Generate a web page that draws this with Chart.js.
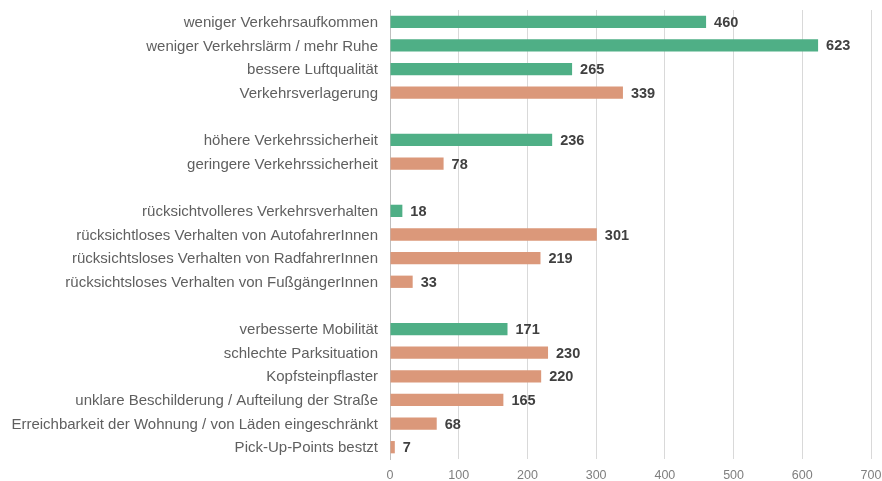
<!DOCTYPE html>
<html><head><meta charset="utf-8">
<script src="https://cdn.jsdelivr.net/npm/chart.js@4/dist/chart.umd.min.js"></script>
<style>html,body{margin:0;padding:0;background:#fff}#wrap{width:882px;height:481px}</style>
</head><body><div id="wrap"><canvas id="c"></canvas></div>
<script>
const categories = [
  "weniger Verkehrsaufkommen",
  "weniger Verkehrslärm / mehr Ruhe",
  "bessere Luftqualität",
  "Verkehrsverlagerung",
  "",
  "höhere Verkehrssicherheit",
  "geringere Verkehrssicherheit",
  "",
  "rücksichtvolleres Verkehrsverhalten",
  "rücksichtloses Verhalten von AutofahrerInnen",
  "rücksichtsloses Verhalten von RadfahrerInnen",
  "rücksichtsloses Verhalten von FußgängerInnen",
  "",
  "verbesserte Mobilität",
  "schlechte Parksituation",
  "Kopfsteinpflaster",
  "unklare Beschilderung / Aufteilung der Straße",
  "Erreichbarkeit der Wohnung / von Läden eingeschränkt",
  "Pick-Up-Points bestzt"
];
const values = [460, 623, 265, 339, null, 236, 78, null, 18, 301, 219, 33, null, 171, 230, 220, 165, 68, 7];
const polarity = ["pos","pos","pos","neg","","pos","neg","","pos","neg","neg","neg","","pos","neg","neg","neg","neg","neg"];
const xTicks = [0, 100, 200, 300, 400, 500, 600, 700];

const colorFor = { pos: "#4faf86", neg: "#db987a", "": "rgba(0,0,0,0)" };

const valueLabels = {
  id: "valueLabels",
  afterDatasetsDraw(chart) {
    const ctx = chart.ctx;
    const meta = chart.getDatasetMeta(0);
    ctx.save();
    ctx.font = "bold 14.5px 'Liberation Sans', Arial, sans-serif";
    ctx.fillStyle = "#404040";
    ctx.textBaseline = "middle";
    ctx.textAlign = "left";
    meta.data.forEach((bar, i) => {
      const v = values[i];
      if (v === null) return;
      ctx.fillText(String(v), bar.x + 8, bar.y + 1);
    });
    ctx.restore();
  }
};

new Chart(document.getElementById("c"), {
  type: "bar",
  data: {
    labels: categories,
    datasets: [{
      data: values,
      backgroundColor: polarity.map(p => colorFor[p]),
      borderWidth: 0,
      barPercentage: 0.52,
      categoryPercentage: 1.0
    }]
  },
  options: {
    indexAxis: "y",
    responsive: true,
    maintainAspectRatio: false,
    animation: false,
    layout: { padding: { top: 10, right: 11, left: 0, bottom: 0 } },
    plugins: { legend: { display: false }, tooltip: { enabled: false } },
    scales: {
      x: {
        min: 0, max: 700,
        afterBuildTicks(scale) { scale.ticks = xTicks.map(v => ({ value: v })); },
        grid: { color: "#d9d9d9", lineWidth: 1, drawTicks: false },
        border: { display: false },
        ticks: { color: "#7f7f7f", font: { family: "'Liberation Sans', Arial, sans-serif", size: 12.5 }, padding: 9 },
        afterFit(scale) { scale.height = 22; scale.paddingLeft = 0; scale.paddingRight = 0; }
      },
      y: {
        grid: { display: false, drawTicks: false },
        border: { display: true, color: "#bfbfbf", width: 1 },
        ticks: { color: "#5f5f5f", font: { family: "'Liberation Sans', Arial, sans-serif", size: 15 }, padding: 12, autoSkip: false, labelOffset: 1 },
        afterFit(scale) { scale.width = 390; scale.paddingTop = 0; scale.paddingBottom = 0; }
      }
    }
  },
  plugins: [valueLabels]
});
</script>
</body></html>
